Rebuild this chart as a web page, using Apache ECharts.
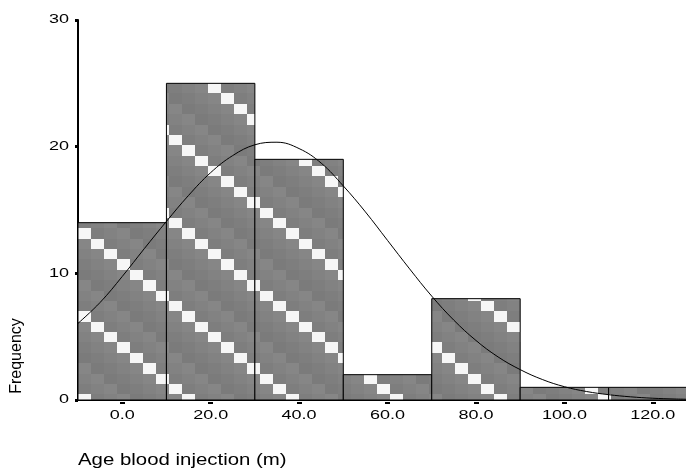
<!DOCTYPE html>
<html>
<head>
<meta charset="utf-8">
<script src="https://cdn.jsdelivr.net/npm/echarts@6/dist/echarts.min.js"></script>
<style>
html,body{margin:0;padding:0;background:#fff;}
#chart{width:686px;height:470px;}
</style>
</head>
<body>
<div id="chart"></div>
<script>
// ---- data ----
var binStarts = [-10, 10, 30, 50, 70, 90, 110];
var binEnds   = [10, 30, 50, 70, 90, 110, 130];
var counts    = [14, 25, 19, 2, 8, 1, 1];

var curveX = [-10, -5, 0, 5, 10, 15, 20, 25, 30, 35, 40, 45, 50, 55, 60, 65, 70, 75, 80, 85, 90, 95, 100, 105, 110, 115, 120, 125, 127.5];
var curveY = [6.05, 7.7, 9.75, 11.95, 14.1, 16.15, 17.95, 19.3, 20.15, 20.35, 19.85, 18.7, 16.9, 14.85, 12.6, 10.35, 8.2, 6.3, 4.7, 3.4, 2.4, 1.62, 1.05, 0.67, 0.42, 0.25, 0.14, 0.08, 0.06];

var xTicks = [0, 20, 40, 60, 80, 100, 120];
var xTickLabels = ['0.0', '20.0', '40.0', '60.0', '80.0', '100.0', '120.0'];
var yTicks = [0, 10, 20, 30];
var yTickLabels = ['0', '10', '20', '30'];

var xTitle = 'Age blood injection (m)';
var yTitle = 'Frequency';

// ---- pattern tile ----
function makeTile() {
  var cw = 13, ch = 10.4, n = 8;
  var c = document.createElement('canvas');
  c.width = Math.round(cw * n); c.height = Math.round(ch * n);
  var g = c.getContext('2d');
  g.fillStyle = '#808080';
  g.fillRect(0, 0, c.width, c.height);
  var shades = ['#7b7b7b', '#868686', '#828282', '#7e7e7e'];
  for (var i = 0; i < n; i++) {
    for (var j = 0; j < n; j++) {
      var x0 = Math.round(i * cw), x1 = Math.round((i + 1) * cw);
      var y0 = Math.round(j * ch), y1 = Math.round((j + 1) * ch);
      g.fillStyle = (i === j) ? '#f6f6f6' : shades[(i * 3 + j * 5) % 4];
      g.fillRect(x0, y0, x1 - x0, y1 - y0);
    }
  }
  return c;
}
var tile = makeTile();

var histData = binStarts.map(function (s, i) { return [s, binEnds[i], counts[i]]; });
var curveData = curveX.map(function (x, i) { return [x, curveY[i]]; });

var chart = echarts.init(document.getElementById('chart'));
var font = '"Liberation Sans", Arial, sans-serif';

chart.setOption({
  animation: false,
  backgroundColor: '#fff',
  grid: { left: 78, right: 0, top: 20, bottom: 70 },
  xAxis: [
    { type: 'value', min: -10, max: 127.5, position: 'bottom',
      axisLine: { show: true, onZero: false, lineStyle: { color: '#000', width: 2 } },
      axisTick: { show: false }, axisLabel: { show: false }, splitLine: { show: false } },
    { type: 'value', min: -10, max: 127.5, position: 'top',
      axisLine: { show: true, lineStyle: { color: '#000', width: 1.5 } },
      axisTick: { show: false }, axisLabel: { show: false }, splitLine: { show: false } },
    { type: 'value', min: -10, max: 127.5, position: 'bottom', offset: 2,
      axisLine: { show: false },
      axisTick: { show: true, length: 2, customValues: xTicks, lineStyle: { color: '#000', width: 5 } },
      axisLabel: { show: false }, splitLine: { show: false } }
  ],
  yAxis: [{
    type: 'value', min: 0, max: 30, interval: 10,
    axisLine: { show: true, onZero: false, lineStyle: { color: '#000', width: 2 } },
    axisTick: { show: true, inside: false, length: 3, lineStyle: { color: '#000', width: 3 } },
    axisLabel: { show: false }, splitLine: { show: false }
  }],
  graphic: [
    { type: 'text', x: 78, y: 460, scaleX: 1.2,
      style: { text: xTitle, font: '17px ' + font, fill: '#000', align: 'left', verticalAlign: 'middle' } },
    { type: 'text', x: 17, y: 356, rotation: Math.PI / 2,
      style: { text: yTitle, font: '16px ' + font, fill: '#000', align: 'center', verticalAlign: 'middle' } }
  ],
  series: [
    {
      type: 'custom', name: 'hist', xAxisIndex: 0, yAxisIndex: 0,
      encode: { x: [0, 1], y: 2 },
      data: histData, z: 2,
      renderItem: function (params, api) {
        var p0 = api.coord([api.value(0), api.value(2)]);
        var p1 = api.coord([api.value(1), 0]);
        return {
          type: 'rect',
          shape: { x: p0[0], y: p0[1], width: p1[0] - p0[0], height: p1[1] - p0[1] },
          style: { fill: { image: tile, repeat: 'repeat' }, stroke: '#000', lineWidth: 1 }
        };
      }
    },
    {
      type: 'line', name: 'normal', xAxisIndex: 0, yAxisIndex: 0,
      data: curveData, smooth: 0.4, showSymbol: false, z: 5,
      lineStyle: { color: '#000', width: 1 }
    },
    {
      type: 'custom', name: 'xlabels', xAxisIndex: 0, yAxisIndex: 0,
      encode: { x: 0 }, data: xTicks.map(function (v) { return [v]; }), z: 6,
      renderItem: function (params, api) {
        var p = api.coord([api.value(0), 0]);
        return {
          type: 'text', x: p[0], y: p[1] + 16, scaleX: 1.5,
          style: { text: xTickLabels[params.dataIndex], font: '12px ' + font, fill: '#000', align: 'center', verticalAlign: 'middle' }
        };
      }
    },
    {
      type: 'custom', name: 'ylabels', xAxisIndex: 0, yAxisIndex: 0,
      encode: { y: 0 }, data: yTicks.map(function (v) { return [v]; }), z: 6,
      renderItem: function (params, api) {
        var p = api.coord([-10, api.value(0)]);
        return {
          type: 'text', x: p[0] - 9, y: p[1], scaleX: 1.5,
          style: { text: yTickLabels[params.dataIndex], font: '12px ' + font, fill: '#000', align: 'right', verticalAlign: 'middle' }
        };
      }
    }
  ]
});
</script>
</body>
</html>
